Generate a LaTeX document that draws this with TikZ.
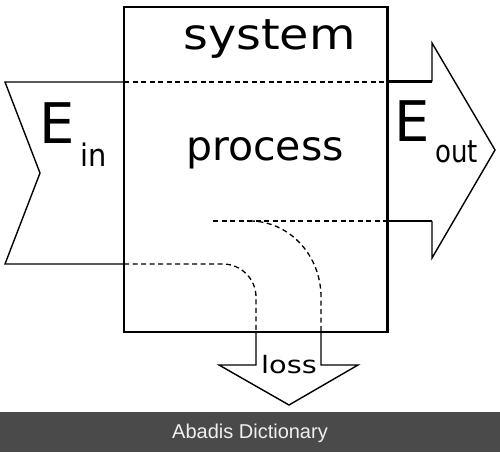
\documentclass[tikz,border=0pt]{standalone}
\usepackage{fontspec}
\usepackage{graphicx}
\setmainfont{DejaVu Sans}
\newfontfamily\footfont{Liberation Sans}
\definecolor{footgray}{RGB}{74,74,74}
\definecolor{foottext}{RGB}{240,240,240}
\begin{document}
\begin{tikzpicture}[x=1pt,y=-1pt,
  thickline/.style={line width=2.8pt, line cap=rect},
  thinline/.style={line width=1.4pt, line join=miter},
  dashline/.style={line width=1.3pt, dash pattern=on 5pt off 3.5pt},
  lbl/.style={inner sep=0pt, outer sep=0pt, text=black}]
\useasboundingbox (0,0) rectangle (500,452);
\fill[white] (0,0) rectangle (500,452);

% coordinates
\coordinate (boxNW) at (124,7);
\coordinate (boxSE) at (387.5,332);

% left (input) arrow
\coordinate (inTop) at (5,82);
\coordinate (inNotch) at (40,173);
\coordinate (inBot) at (5,264);
\draw[thinline] (124,82) -- (inTop) -- (inNotch) -- (inBot) -- (124,264);

% right (output) arrow
\coordinate (outTip) at (495,150);
\draw[thinline] (432,81.5) -- (432,43) -- (outTip) -- (432,258) -- (432,221);
\draw[thickline, line cap=butt] (387.5,81.5) -- (432,81.5);
\draw[thickline, line cap=butt] (387.5,221) -- (432,221);

% loss arrow
\coordinate (lossTip) at (289,405);
\draw[thinline] (256,332) -- (256,365) -- (219,365) -- (lossTip) -- (358,365) -- (321,365) -- (321,332);

% dashed flows
\draw[dashline] (124,82) -- (387.5,82);
\draw[dashline] (213,221) -- (387.5,221);
\draw[dashline] (124,264) -- (223,264) .. controls (241,264) and (256,279) .. (256,297) -- (256,332);
\draw[dashline] (250,221) .. controls (289,221) and (321,255) .. (321,297) -- (321,332);

% system box
\draw[thickline, line cap=butt, line join=miter] (boxNW) rectangle (boxSE);

% labels
\node[lbl, anchor=base] (system) at (269.5,49) {\fontsize{42.6}{44}\selectfont\scalebox{1.12}[1]{system}};
\node[lbl, anchor=base] (process) at (265,160.7) {\fontsize{41}{44}\selectfont process};
\node[lbl, anchor=base west] (ein) at (39.5,143.3) {\fontsize{56}{60}\selectfont E};
\node[lbl, anchor=base west] (insub) at (80.5,166) {\fontsize{31}{33}\selectfont\scalebox{0.93}[1]{in}};
\node[lbl, anchor=base west] (eout) at (394.5,141.7) {\fontsize{56}{60}\selectfont E};
\node[lbl, anchor=base west] (outsub) at (435.5,162.7) {\fontsize{31}{33}\selectfont\scalebox{0.84}[1]{out}};
\node[lbl, anchor=base] (loss) at (289,373.3) {\fontsize{24}{26}\selectfont\scalebox{1.2}[1]{loss}};

% footer
\fill[footgray] (0,412) rectangle (500,452);
\node[lbl, anchor=base, text=foottext] (footer) at (250,438.3) {\footfont\fontsize{20}{22}\selectfont Abadis Dictionary};
\end{tikzpicture}
\end{document}
